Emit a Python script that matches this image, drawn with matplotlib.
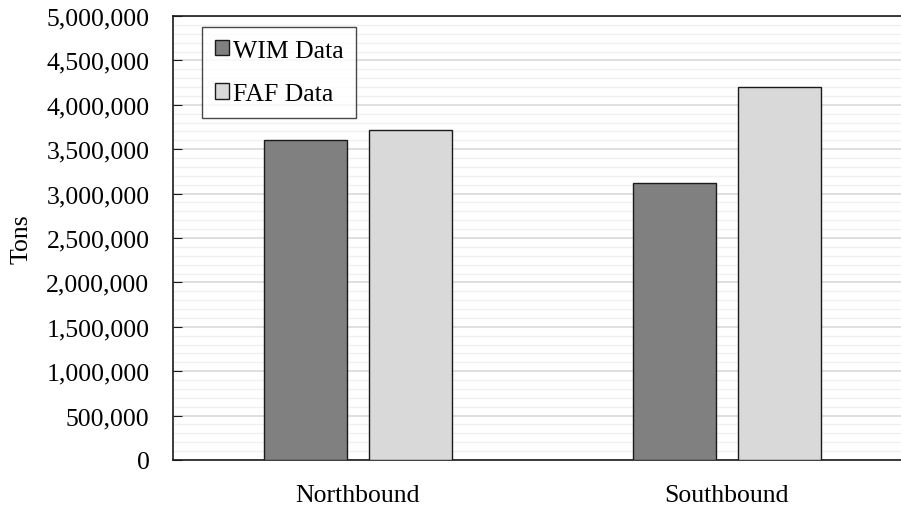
import matplotlib
matplotlib.use("Agg")
import matplotlib.pyplot as plt
import numpy as np
from matplotlib.ticker import MultipleLocator, FuncFormatter

categories = ["Northbound", "Southbound"]
wim_values = [3600000, 3120000]
faf_values = [3720000, 4200000]
series_names = ["WIM Data", "FAF Data"]

plt.rcParams['font.family'] = ['Liberation Serif', 'DejaVu Serif']

fig = plt.figure(figsize=(9.01, 5.06), dpi=100)
ax = fig.add_axes([173/901, 45/506, 1 - 173/901, (461-17)/506])

x = np.arange(len(categories))
w = 0.225
off = 0.1425
ax.bar(x - off, wim_values, w, color="#808080", edgecolor="#1a1a1a", linewidth=1.0, label=series_names[0], zorder=3)
ax.bar(x + off, faf_values, w, color="#d9d9d9", edgecolor="#1a1a1a", linewidth=1.0, label=series_names[1], zorder=3)

ax.set_xlim(-0.501, 1.4715)
ax.set_ylim(0, 5000000)
ax.yaxis.set_major_locator(MultipleLocator(500000))
ax.yaxis.set_minor_locator(MultipleLocator(100000))
ax.yaxis.set_major_formatter(FuncFormatter(lambda v, p: f"{int(v):,}"))
ax.grid(axis='y', which='major', color="#d9d9d9", linewidth=1.2, zorder=0)
ax.grid(axis='y', which='minor', color="#f0f0f0", linewidth=1.0, zorder=0)
ax.set_axisbelow(True)

FS = 18.5
ax.set_xticks(x)
ax.set_xticklabels(categories, fontsize=FS)
ax.tick_params(axis='x', length=0, pad=17.5)
ax.tick_params(axis='y', which='major', direction='in', length=6.5, labelsize=FS, pad=17, color="#1a1a1a")
ax.tick_params(axis='y', which='minor', length=0)

for s in ['left', 'bottom', 'top']:
    ax.spines[s].set_color("#1a1a1a")
    ax.spines[s].set_linewidth(1.2)
ax.spines['right'].set_visible(False)

ax.set_ylabel("Tons", fontsize=FS, labelpad=10)

leg = ax.legend(loc='upper left', bbox_to_anchor=((202-173)/728, 1 - (28-17)/444),
                fontsize=FS, frameon=True, fancybox=False, edgecolor="#1a1a1a",
                handlelength=0.55, handleheight=0.55, handletextpad=0.15,
                labelspacing=0.83, borderpad=0.5, borderaxespad=0)
leg.get_frame().set_linewidth(1.0)

fig.savefig("out.png", dpi=100)
